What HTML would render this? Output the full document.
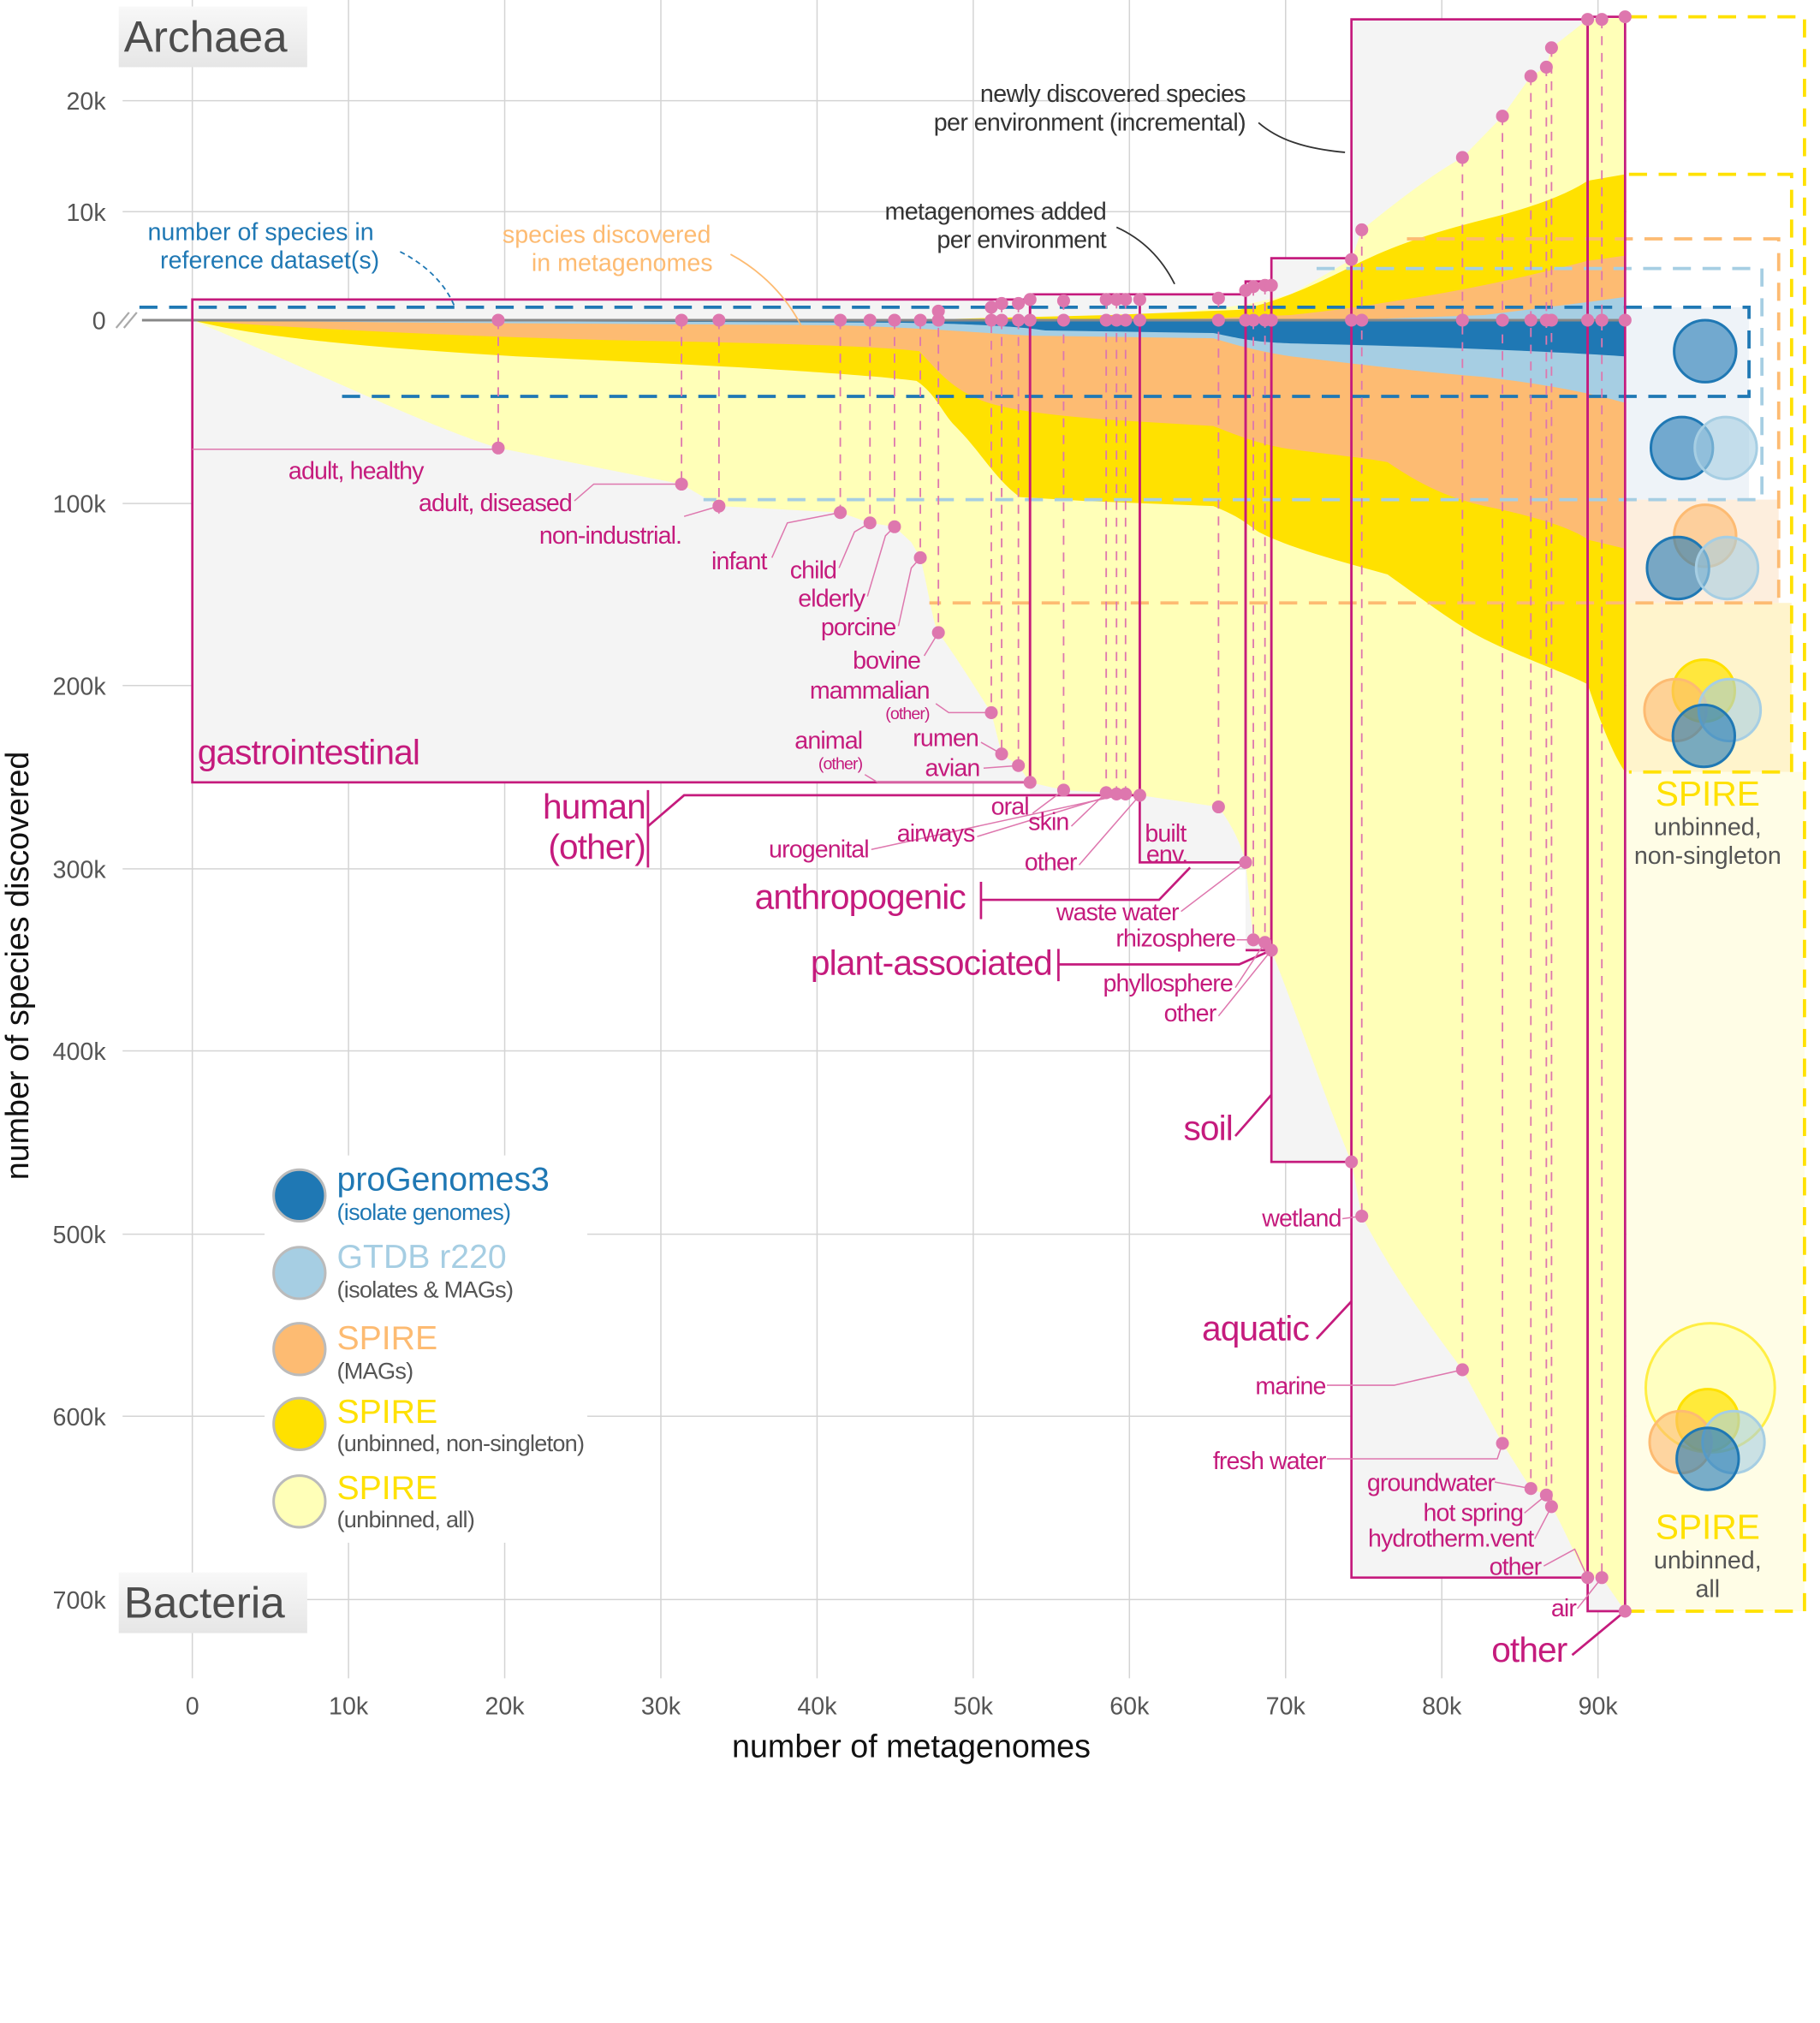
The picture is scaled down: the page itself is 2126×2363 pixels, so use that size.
<!DOCTYPE html>
<html><head><meta charset="utf-8"><style>
html,body{margin:0;padding:0;background:#fff}
svg{display:block}
text{font-family:"Liberation Sans",sans-serif}
.p{fill:#c51b7d;font-size:19px;letter-spacing:-0.6px}
.pb{fill:#c51b7d;font-size:27px;letter-spacing:-0.6px}
.t{fill:#555;font-size:19px}
.g{fill:#333;font-size:19px;letter-spacing:-0.4px}
</style></head><body>
<svg width="2126" height="2363" viewBox="0 0 1410 1567" preserveAspectRatio="none" xmlns="http://www.w3.org/2000/svg">
<defs>
<linearGradient id="lg" x1="0" y1="0" x2="0" y2="1"><stop offset="0" stop-color="#f8f8f8"/><stop offset="1" stop-color="#e6e6e6"/></linearGradient>
</defs>
<rect width="1410" height="1567" fill="#fff"/>
<!-- grid -->
<g stroke="#d4d4d4" stroke-width="1">
<line x1="149" y1="0" x2="149" y2="1300"/><line x1="270" y1="0" x2="270" y2="1300"/><line x1="391" y1="0" x2="391" y2="1300"/><line x1="512" y1="0" x2="512" y2="1300"/><line x1="633" y1="0" x2="633" y2="1300"/><line x1="754" y1="0" x2="754" y2="1300"/><line x1="875" y1="0" x2="875" y2="1300"/><line x1="996" y1="0" x2="996" y2="1300"/><line x1="1117" y1="0" x2="1117" y2="1300"/><line x1="1238" y1="0" x2="1238" y2="1300"/>
<line x1="95" y1="78" x2="1260" y2="78"/><line x1="95" y1="164" x2="1260" y2="164"/><line x1="95" y1="390" x2="1260" y2="390"/><line x1="95" y1="531" x2="1260" y2="531"/><line x1="95" y1="673" x2="1260" y2="673"/><line x1="95" y1="814" x2="1260" y2="814"/><line x1="95" y1="956" x2="1260" y2="956"/><line x1="95" y1="1097" x2="1260" y2="1097"/><line x1="95" y1="1239" x2="1260" y2="1239"/>
</g>
<!-- gray box backgrounds -->
<g fill="#f4f4f4">
<rect x="149" y="232" width="649" height="374"/>
<rect x="798" y="228" width="85" height="388"/>
<rect x="883" y="228" width="82" height="440"/>
<rect x="965" y="218" width="20" height="518"/>
<rect x="985" y="200" width="62" height="700"/>
<rect x="1047" y="15" width="183" height="1207"/>
<rect x="1230" y="13" width="29" height="1235"/>
</g>
<!-- right legend panel -->
<rect x="1260" y="238" width="95" height="149" fill="#eef3f8"/>
<rect x="1260" y="387" width="118" height="80" fill="#fdeedd"/>
<rect x="1260" y="467" width="128" height="131" fill="#fff4cc"/>
<rect x="1260" y="598" width="138" height="650" fill="#fffde6"/>
<!-- bacteria pale yellow -->
<path fill="#ffffb8" d="M149,248 C250,290 330,330 386,347 L528,375 L557,392 L651,397 L674,405 L693,408 L706,420 L713,432 C720,460 722,480 727,490 C745,515 760,540 768,552 L776,584 L789,593 L798,606 L824,612 L857,614 L883,616 L944,625 C955,640 962,655 965,668 L971,728 L980,730 L985,736 C1010,800 1030,860 1047,900 L1055,942 C1080,990 1110,1030 1133,1061 L1164,1118 L1186,1153 L1198,1158 L1202,1167 C1215,1190 1222,1210 1230,1222 L1241,1222 L1259,1248 L1259,248 Z"/>
<!-- archaea pale yellow -->
<path fill="#ffffb8" d="M760,248 L900,244 L965,236 L1000,228 L1047,201 L1055,178 C1090,150 1110,135 1133,122 L1164,90 L1186,59 L1198,52 L1202,37 L1230,15 L1241,15 L1259,13 L1259,248 Z"/>
<!-- bacteria yellow -->
<path fill="#ffe100" d="M149,248 C200,262 300,270 400,276 C550,283 650,288 710,295 C725,305 730,320 740,330 C760,350 770,370 790,385 L840,388 L940,392 C960,400 965,405 975,412 C1000,425 1040,435 1075,445 C1110,470 1130,485 1150,495 C1180,510 1210,520 1230,530 C1240,560 1250,585 1259,598 L1259,248 Z"/>
<!-- archaea yellow -->
<path fill="#ffe100" d="M700,248 L860,244 L960,240 C990,234 1020,220 1050,205 C1080,190 1110,180 1150,170 C1190,160 1215,150 1230,140 L1259,135 L1259,248 Z"/>
<!-- bacteria orange -->
<path fill="#fdbb72" d="M149,248 C250,256 400,262 500,264 C600,266 680,268 712,272 C725,285 735,300 760,310 C780,318 820,322 857,325 L940,330 C965,340 980,345 1000,348 C1030,352 1060,355 1075,358 C1100,375 1120,385 1150,392 C1190,400 1220,410 1230,418 L1259,425 L1259,248 Z"/>
<!-- archaea orange -->
<path fill="#fdbb72" d="M900,248 L1000,244 C1040,240 1070,235 1100,230 C1150,222 1200,210 1230,202 L1259,198 L1259,248 Z"/>
<!-- light blue -->
<path fill="#a6cee3" d="M149,248 C300,250 500,251 650,252 C720,254 760,258 800,260 L940,262 C960,268 975,272 1000,276 C1050,282 1100,288 1150,292 C1200,298 1230,304 1259,312 L1259,248 Z"/>
<path fill="#a6cee3" d="M1040,248 L1150,244 L1230,234 L1259,230 L1259,248 Z"/>
<!-- dark blue -->
<path fill="#1f78b4" d="M149,248 C300,249 500,249 700,250 C760,251 790,253 810,256 L940,258 C960,262 970,265 1000,266 C1100,268 1200,272 1259,276 L1259,248 Z"/>
<line x1="110" y1="248" x2="1259" y2="248" stroke="#888" stroke-width="2"/>
<!-- dashed reference lines -->
<g fill="none" stroke-width="2.5" stroke-dasharray="14,9">
<path stroke="#ffe100" d="M1262,13 L1398,13 L1398,1248 L1262,1248"/>
<path stroke="#ffe100" d="M1262,135 L1388,135 L1388,598 L1262,598"/>
<path stroke="#fdbb72" d="M1090,185 L1378,185 L1378,467 L720,467"/>
<path stroke="#a6cee3" d="M1020,208 L1365,208 L1365,387 L545,387"/>
<path stroke="#1f78b4" d="M108,238 L1355,238 L1355,307 L262,307"/>
</g>
<!-- pink dashed verticals -->
<g stroke="#de77ae" stroke-width="1.2" stroke-dasharray="7,6">
<line x1="386" y1="248" x2="386" y2="347"/><line x1="528" y1="248" x2="528" y2="375"/><line x1="557" y1="248" x2="557" y2="392"/><line x1="651" y1="248" x2="651" y2="397"/><line x1="674" y1="248" x2="674" y2="405"/><line x1="693" y1="248" x2="693" y2="408"/><line x1="713" y1="248" x2="713" y2="432"/><line x1="727" y1="241" x2="727" y2="490"/><line x1="768" y1="238" x2="768" y2="552"/><line x1="776" y1="235" x2="776" y2="584"/><line x1="789" y1="235" x2="789" y2="593"/><line x1="824" y1="233" x2="824" y2="612"/><line x1="857" y1="232" x2="857" y2="614"/><line x1="865" y1="232" x2="865" y2="615"/><line x1="872" y1="232" x2="872" y2="615"/><line x1="944" y1="231" x2="944" y2="625"/><line x1="971" y1="222" x2="971" y2="728"/><line x1="980" y1="221" x2="980" y2="730"/><line x1="1055" y1="178" x2="1055" y2="942"/><line x1="1133" y1="122" x2="1133" y2="1061"/><line x1="1164" y1="90" x2="1164" y2="1118"/><line x1="1186" y1="59" x2="1186" y2="1153"/><line x1="1198" y1="52" x2="1198" y2="1158"/><line x1="1202" y1="37" x2="1202" y2="1167"/><line x1="1241" y1="15" x2="1241" y2="1222"/>
</g>
<!-- pink boxes -->
<g fill="none" stroke="#c51b7d" stroke-width="1.8">
<rect x="149" y="232" width="649" height="374"/>
<path d="M798,606 L798,228 L883,228 L883,616"/>
<rect x="883" y="228" width="82" height="440"/>
<path d="M965,668 L965,218 L985,218 L985,736 L965,736"/>
<rect x="985" y="200" width="62" height="700"/>
<rect x="1047" y="15" width="183" height="1207"/>
<rect x="1230" y="13" width="29" height="1235"/>
<path d="M502,640 L530,616 L883,616"/>
<path d="M502,612 L502,672"/>
<path d="M760,683 L760,712 M760,697 L898,697 L922,672"/>
<path d="M820,735 L820,760 M820,747 L960,747 L985,736"/>
<path d="M957,880 L985,848"/>
<path d="M1020,1037 L1047,1008"/>
<path d="M1218,1282 L1259,1248"/>
</g>
<!-- thin pink leaders -->
<g fill="none" stroke="#de77ae" stroke-width="1">
<path d="M149,348 L386,348"/><path d="M445,388 L460,375 L528,375"/><path d="M530,400 L557,392 L557,398"/><path d="M598,432 L610,405 L651,397"/><path d="M650,440 L662,412 L674,405"/><path d="M672,462 L686,415 L693,408"/><path d="M696,485 L706,440 L713,432"/><path d="M716,508 L727,490"/><path d="M725,545 L735,552 L768,552"/><path d="M760,575 L776,584"/><path d="M762,595 L789,593"/><path d="M670,600 L680,606 L798,606"/><path d="M800,630 L824,612"/><path d="M830,640 L857,614"/><path d="M757,648 L865,615"/><path d="M675,658 L872,615"/><path d="M836,670 L883,616"/><path d="M915,706 L965,668"/><path d="M958,728 L971,728"/><path d="M957,765 L980,730"/><path d="M944,787 L985,736"/><path d="M1040,944 L1055,942"/><path d="M1028,1073 L1080,1073 L1133,1061"/><path d="M1028,1130 L1160,1130 L1164,1118"/><path d="M1158,1148 L1186,1153"/><path d="M1181,1172 L1198,1158"/><path d="M1189,1192 L1202,1167"/><path d="M1196,1213 L1220,1200 L1230,1222"/><path d="M1222,1246 L1241,1222"/>
</g>
<!-- dots -->
<g fill="#de77ae">
<circle cx="386" cy="248" r="5"/><circle cx="528" cy="248" r="5"/><circle cx="557" cy="248" r="5"/><circle cx="651" cy="248" r="5"/><circle cx="674" cy="248" r="5"/><circle cx="693" cy="248" r="5"/><circle cx="713" cy="248" r="5"/><circle cx="727" cy="248" r="5"/><circle cx="768" cy="248" r="5"/><circle cx="776" cy="248" r="5"/><circle cx="789" cy="248" r="5"/><circle cx="798" cy="248" r="5"/><circle cx="824" cy="248" r="5"/><circle cx="857" cy="248" r="5"/><circle cx="865" cy="248" r="5"/><circle cx="872" cy="248" r="5"/><circle cx="883" cy="248" r="5"/><circle cx="944" cy="248" r="5"/><circle cx="965" cy="248" r="5"/><circle cx="971" cy="248" r="5"/><circle cx="980" cy="248" r="5"/><circle cx="985" cy="248" r="5"/><circle cx="1047" cy="248" r="5"/><circle cx="1055" cy="248" r="5"/><circle cx="1133" cy="248" r="5"/><circle cx="1164" cy="248" r="5"/><circle cx="1186" cy="248" r="5"/><circle cx="1198" cy="248" r="5"/><circle cx="1202" cy="248" r="5"/><circle cx="1230" cy="248" r="5"/><circle cx="1241" cy="248" r="5"/><circle cx="1259" cy="248" r="5"/>
<circle cx="727" cy="241" r="5"/><circle cx="768" cy="238" r="5"/><circle cx="776" cy="235" r="5"/><circle cx="789" cy="235" r="5"/><circle cx="798" cy="232" r="5"/><circle cx="824" cy="233" r="5"/><circle cx="857" cy="232" r="5"/><circle cx="865" cy="232" r="5"/><circle cx="872" cy="232" r="5"/><circle cx="883" cy="232" r="5"/><circle cx="944" cy="231" r="5"/><circle cx="965" cy="225" r="5"/><circle cx="971" cy="222" r="5"/><circle cx="980" cy="221" r="5"/><circle cx="985" cy="221" r="5"/><circle cx="1047" cy="201" r="5"/><circle cx="1055" cy="178" r="5"/><circle cx="1133" cy="122" r="5"/><circle cx="1164" cy="90" r="5"/><circle cx="1186" cy="59" r="5"/><circle cx="1198" cy="52" r="5"/><circle cx="1202" cy="37" r="5"/><circle cx="1230" cy="15" r="5"/><circle cx="1241" cy="15" r="5"/><circle cx="1259" cy="13" r="5"/>
<circle cx="386" cy="347" r="5"/><circle cx="528" cy="375" r="5"/><circle cx="557" cy="392" r="5"/><circle cx="651" cy="397" r="5"/><circle cx="674" cy="405" r="5"/><circle cx="693" cy="408" r="5"/><circle cx="713" cy="432" r="5"/><circle cx="727" cy="490" r="5"/><circle cx="768" cy="552" r="5"/><circle cx="776" cy="584" r="5"/><circle cx="789" cy="593" r="5"/><circle cx="798" cy="606" r="5"/><circle cx="824" cy="612" r="5"/><circle cx="857" cy="614" r="5"/><circle cx="865" cy="615" r="5"/><circle cx="872" cy="615" r="5"/><circle cx="883" cy="616" r="5"/><circle cx="944" cy="625" r="5"/><circle cx="965" cy="668" r="5"/><circle cx="971" cy="728" r="5"/><circle cx="980" cy="730" r="5"/><circle cx="985" cy="736" r="5"/><circle cx="1047" cy="900" r="5"/><circle cx="1055" cy="942" r="5"/><circle cx="1133" cy="1061" r="5"/><circle cx="1164" cy="1118" r="5"/><circle cx="1186" cy="1153" r="5"/><circle cx="1198" cy="1158" r="5"/><circle cx="1202" cy="1167" r="5"/><circle cx="1230" cy="1222" r="5"/><circle cx="1241" cy="1222" r="5"/><circle cx="1259" cy="1248" r="5"/>
</g>
<!-- break marks -->
<g stroke="#aaa" stroke-width="1.5"><line x1="90" y1="254" x2="100" y2="242"/><line x1="96" y1="254" x2="106" y2="242"/></g>
<!-- legend circles right -->
<g stroke-width="2">
<circle cx="1321" cy="272" r="24" fill="#1f78b4" fill-opacity="0.6" stroke="#1f78b4"/>
<circle cx="1303" cy="347" r="24" fill="#1f78b4" fill-opacity="0.6" stroke="#1f78b4"/>
<circle cx="1337" cy="347" r="24" fill="#a6cee3" fill-opacity="0.6" stroke="#a6cee3"/>
<circle cx="1321" cy="415" r="24" fill="#fdbb72" fill-opacity="0.6" stroke="#fdbb72"/>
<circle cx="1300" cy="440" r="24" fill="#1f78b4" fill-opacity="0.6" stroke="#1f78b4"/>
<circle cx="1338" cy="440" r="24" fill="#a6cee3" fill-opacity="0.6" stroke="#a6cee3"/>
<circle cx="1320" cy="535" r="24" fill="#ffe100" fill-opacity="0.7" stroke="#ffe100"/>
<circle cx="1298" cy="550" r="24" fill="#fdbb72" fill-opacity="0.6" stroke="#fdbb72"/>
<circle cx="1340" cy="550" r="24" fill="#a6cee3" fill-opacity="0.6" stroke="#a6cee3"/>
<circle cx="1320" cy="570" r="24" fill="#1f78b4" fill-opacity="0.6" stroke="#1f78b4"/>
<circle cx="1325" cy="1075" r="50" fill="#ffffb8" fill-opacity="0.8" stroke="#ffee44"/>
<circle cx="1323" cy="1100" r="24" fill="#ffe100" fill-opacity="0.7" stroke="#ffe100"/>
<circle cx="1302" cy="1117" r="24" fill="#fdbb72" fill-opacity="0.6" stroke="#fdbb72"/>
<circle cx="1343" cy="1117" r="24" fill="#a6cee3" fill-opacity="0.6" stroke="#a6cee3"/>
<circle cx="1323" cy="1130" r="24" fill="#1f78b4" fill-opacity="0.6" stroke="#1f78b4"/>
</g>
<g text-anchor="middle">
<text x="1323" y="624" fill="#ffe100" font-size="27">SPIRE</text>
<text x="1323" y="647" class="t" fill="#555">unbinned,</text>
<text x="1323" y="669" class="t">non-singleton</text>
<text x="1323" y="1192" fill="#ffe100" font-size="27">SPIRE</text>
<text x="1323" y="1215" class="t">unbinned,</text>
<text x="1323" y="1237" class="t">all</text>
</g>
<!-- Archaea / Bacteria -->
<rect x="92" y="5" width="146" height="47" fill="url(#lg)"/>
<text x="96" y="40" fill="#4d4d4d" font-size="34">Archaea</text>
<rect x="92" y="1218" width="146" height="47" fill="url(#lg)"/>
<text x="96" y="1253" fill="#4d4d4d" font-size="34">Bacteria</text>
<!-- axes labels -->
<g class="t" text-anchor="end">
<text x="82" y="85">20k</text><text x="82" y="171">10k</text><text x="82" y="255">0</text><text x="82" y="397">100k</text><text x="82" y="538">200k</text><text x="82" y="680">300k</text><text x="82" y="821">400k</text><text x="82" y="963">500k</text><text x="82" y="1104">600k</text><text x="82" y="1246">700k</text>
</g>
<g class="t" text-anchor="middle">
<text x="149" y="1328">0</text><text x="270" y="1328">10k</text><text x="391" y="1328">20k</text><text x="512" y="1328">30k</text><text x="633" y="1328">40k</text><text x="754" y="1328">50k</text><text x="875" y="1328">60k</text><text x="996" y="1328">70k</text><text x="1117" y="1328">80k</text><text x="1238" y="1328">90k</text>
</g>
<text x="706" y="1361" text-anchor="middle" fill="#111" font-size="25">number of metagenomes</text>
<text transform="translate(22,748) rotate(-90)" text-anchor="middle" fill="#111" font-size="25">number of species discovered</text>
<!-- annotations -->
<g class="g" text-anchor="end">
<text x="965" y="79">newly discovered species</text><text x="965" y="101">per environment (incremental)</text>
<text x="857" y="170">metagenomes added</text><text x="857" y="192">per environment</text>
</g>
<path d="M975,95 C990,108 1010,115 1042,118" fill="none" stroke="#333" stroke-width="1.2"/>
<path d="M865,176 C885,185 900,200 910,220" fill="none" stroke="#333" stroke-width="1.2"/>
<g text-anchor="middle" font-size="19">
<text x="202" y="186" fill="#1f78b4">number of species in</text><text x="209" y="208" fill="#1f78b4">reference dataset(s)</text>
<text x="470" y="188" fill="#fdbb72">species discovered</text><text x="482" y="210" fill="#fdbb72">in metagenomes</text>
</g>
<path d="M310,195 C330,205 345,220 352,237" fill="none" stroke="#1f78b4" stroke-width="1.2" stroke-dasharray="4,3"/>
<path d="M566,197 C590,210 610,230 622,255" fill="none" stroke="#fdbb72" stroke-width="1.2"/>
<!-- pink labels -->
<g class="p" text-anchor="end">
<text x="328" y="371">adult, healthy</text>
<text x="443" y="396">adult, diseased</text>
<text x="528" y="421">non-industrial.</text>
<text x="594" y="441">infant</text>
<text x="648" y="448">child</text>
<text x="670" y="470">elderly</text>
<text x="694" y="492">porcine</text>
<text x="713" y="518">bovine</text>
<text x="720" y="541">mammalian</text>
<text x="720" y="557" font-size="13">(other)</text>
<text x="668" y="580">animal</text>
<text x="668" y="596" font-size="13">(other)</text>
<text x="758" y="578">rumen</text>
<text x="759" y="601">avian</text>
<text x="797" y="631">oral</text>
<text x="828" y="643">skin</text>
<text x="755" y="652">airways</text>
<text x="673" y="664">urogenital</text>
<text x="834" y="674">other</text>
<text x="913" y="713">waste water</text>
<text x="957" y="733">rhizosphere</text>
<text x="955" y="768">phyllosphere</text>
<text x="942" y="791">other</text>
<text x="1039" y="950">wetland</text>
<text x="1027" y="1080">marine</text>
<text x="1027" y="1138">fresh water</text>
<text x="1158" y="1155">groundwater</text>
<text x="1180" y="1178">hot spring</text>
<text x="1188" y="1198">hydrotherm.vent</text>
<text x="1194" y="1220">other</text>
<text x="1221" y="1252">air</text>
</g>
<g class="p"><text x="887" y="652">built</text><text x="888" y="668">env.</text></g>
<text x="153" y="592" class="pb">gastrointestinal</text>
<g class="pb" text-anchor="end">
<text x="500" y="634">human</text><text x="500" y="665">(other)</text>
<text x="748" y="704">anthropogenic</text>
<text x="815" y="755">plant-associated</text>
<text x="955" y="883">soil</text>
<text x="1014" y="1038">aquatic</text>
<text x="1214" y="1287">other</text>
</g>
<!-- legend -->
<rect x="205" y="895" width="250" height="300" fill="#fff"/>
<g stroke="#bbb" stroke-width="2">
<circle cx="232" cy="926" r="20" fill="#1f78b4"/>
<circle cx="232" cy="986" r="20" fill="#a6cee3"/>
<circle cx="232" cy="1045" r="20" fill="#fdbb72"/>
<circle cx="232" cy="1103" r="20" fill="#ffe100"/>
<circle cx="232" cy="1163" r="20" fill="#ffffb8"/>
</g>
<g font-size="26">
<text x="261" y="922" fill="#1f78b4">proGenomes3</text>
<text x="261" y="982" fill="#a6cee3">GTDB r220</text>
<text x="261" y="1045" fill="#fdbb72">SPIRE</text>
<text x="261" y="1102" fill="#ffe100">SPIRE</text>
<text x="261" y="1161" fill="#ffe100">SPIRE</text>
</g>
<g font-size="18" letter-spacing="-0.5">
<text x="261" y="945" fill="#1f78b4">(isolate genomes)</text>
<text x="261" y="1005" fill="#555">(isolates &amp; MAGs)</text>
<text x="261" y="1068" fill="#555">(MAGs)</text>
<text x="261" y="1124" fill="#555">(unbinned, non-singleton)</text>
<text x="261" y="1183" fill="#555">(unbinned, all)</text>
</g>
</svg>
</body></html>
